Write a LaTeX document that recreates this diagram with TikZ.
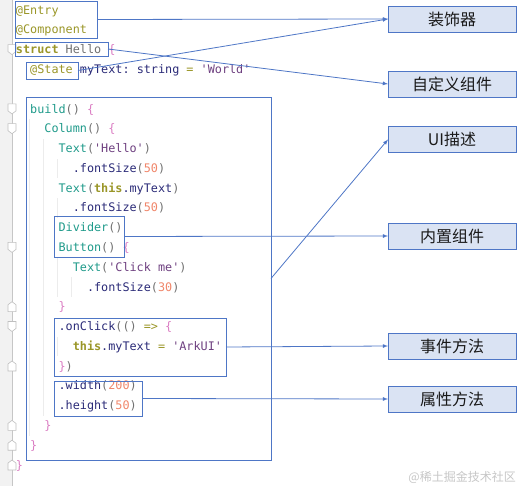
\documentclass[tikz,border=0pt]{standalone}
\usepackage{fontspec}
\usepackage{xcolor}
\setmonofont{DejaVu Sans Mono}
\newfontfamily\cjk{Noto Sans CJK SC}
\usetikzlibrary{arrows}
\definecolor{annot}{HTML}{9A9628}
\definecolor{ident}{HTML}{2B2B78}
\definecolor{strlit}{HTML}{6E4080}
\definecolor{func}{HTML}{1F9A8A}
\definecolor{paren}{HTML}{707070}
\definecolor{brace}{HTML}{DA7CC2}
\definecolor{numlit}{HTML}{F0866A}
\definecolor{frame}{HTML}{4E76C6}
\definecolor{labelfill}{HTML}{DAE3F3}
\newcommand{\cAn}[1]{\textcolor{annot}{#1}}
\newcommand{\cKw}[1]{\textcolor{annot}{\bfseries #1}}
\newcommand{\cId}[1]{\textcolor{ident}{#1}}
\newcommand{\cSt}[1]{\textcolor{strlit}{#1}}
\newcommand{\cFn}[1]{\textcolor{func}{#1}}
\newcommand{\cPa}[1]{\textcolor{paren}{#1}}
\newcommand{\cBr}[1]{\textcolor{brace}{#1}}
\newcommand{\cNu}[1]{\textcolor{numlit}{#1}}
\tikzset{%
    code/.style={anchor=base west,inner sep=0pt,outer sep=0pt,font=\ttfamily\fontsize{11.8}{12}\selectfont},
    hilite/.style={inner sep=0pt,outer sep=0pt,shape=rectangle,draw=frame,line width=0.85pt,anchor=north west},
    tag/.style={inner sep=0pt,outer sep=0pt,shape=rectangle,draw=frame,fill=labelfill,line width=0.85pt,minimum width=128,minimum height=26,font=\cjk\fontsize{16}{16}\selectfont,text=black!90},
    link/.style={->,>=latex,draw=frame,line width=0.8pt},
    guide/.style={gray!15,line width=1pt},
    fold/.style={draw=gray!50,fill=white,line width=0.6pt},
}

\begin{document}
\begin{tikzpicture}[x=1pt,y=-1pt]
        \useasboundingbox (0,0) rectangle (517,486);
        \fill[gray!10] (0,0) rectangle (12,486);
        \draw[gray!45,line width=0.8pt] (12,0) -- (12,486);

        \draw[guide] (29,119) -- (29,436);
        \draw[guide] (43,139) -- (43,416);
        \draw[guide] (57,159) -- (57,178);
        \draw[guide] (57,198) -- (57,218);
        \draw[guide] (57,258) -- (57,297);
        \draw[guide] (71,277) -- (71,297);
        \draw[guide] (57,337) -- (57,356);

        \draw[fold] (8,44.6) -- (16,44.6) -- (16,51.6) -- (12,54.6) -- (8,51.6) -- cycle;
        \draw[fold] (8,103.9) -- (16,103.9) -- (16,110.9) -- (12,113.9) -- (8,110.9) -- cycle;
        \draw[fold] (8,123.7) -- (16,123.7) -- (16,130.7) -- (12,133.7) -- (8,130.7) -- cycle;
        \draw[fold] (8,242.4) -- (16,242.4) -- (16,249.4) -- (12,252.4) -- (8,249.4) -- cycle;
        \draw[fold] (8,321.5) -- (16,321.5) -- (16,328.5) -- (12,331.5) -- (8,328.5) -- cycle;
        \draw[fold] (8,311.7) -- (16,311.7) -- (16,304.7) -- (12,301.7) -- (8,304.7) -- cycle;
        \draw[fold] (8,371) -- (16,371) -- (16,364) -- (12,361) -- (8,364) -- cycle;
        \draw[fold] (8,430.4) -- (16,430.4) -- (16,423.4) -- (12,420.4) -- (8,423.4) -- cycle;
        \draw[fold] (8,450.2) -- (16,450.2) -- (16,443.2) -- (12,440.2) -- (8,443.2) -- cycle;
        \draw[fold] (8,470) -- (16,470) -- (16,463) -- (12,460) -- (8,463) -- cycle;

        \node[code] (l0) at (16,14.2) {\cAn{@Entry}};
        \node[code] (l1) at (16,34) {\cAn{@Component}};
        \node[code] (l2) at (16,53.8) {\cKw{struct} \cPa{Hello} \cBr{\{}};
        \node[code] (l3) at (30.2,73.5) {\cAn{@State} \cId{myText: string} \cAn{=} \cSt{'World'}};
        \node[code] (l5) at (30.2,113.1) {\cFn{build}\cPa{()} \cBr{\{}};
        \node[code] (l6) at (44.4,132.9) {\cFn{Column}\cPa{()} \cBr{\{}};
        \node[code] (l7) at (58.6,152.7) {\cFn{Text}\cPa{(}\cSt{'Hello'}\cPa{)}};
        \node[code] (l8) at (72.8,172.4) {\cId{.fontSize}\cPa{(}\cNu{50}\cPa{)}};
        \node[code] (l9) at (58.6,192.2) {\cFn{Text}\cPa{(}\cKw{this}\cId{.myText}\cPa{)}};
        \node[code] (l10) at (72.8,212) {\cId{.fontSize}\cPa{(}\cNu{50}\cPa{)}};
        \node[code] (l11) at (58.6,231.8) {\cFn{Divider}\cPa{()}};
        \node[code] (l12) at (58.6,251.6) {\cFn{Button}\cPa{()} \cBr{\{}};
        \node[code] (l13) at (72.8,271.3) {\cFn{Text}\cPa{(}\cSt{'Click me'}\cPa{)}};
        \node[code] (l14) at (87,291.1) {\cId{.fontSize}\cPa{(}\cNu{30}\cPa{)}};
        \node[code] (l15) at (58.6,310.9) {\cBr{\}}};
        \node[code] (l16) at (58.6,330.7) {\cId{.onClick}\cPa{(()} \cAn{=>} \cBr{\{}};
        \node[code] (l17) at (72.8,350.5) {\cKw{this}\cId{.myText} \cAn{=} \cSt{'ArkUI'}};
        \node[code] (l18) at (58.6,370.2) {\cBr{\}}\cPa{)}};
        \node[code] (l19) at (58.6,390) {\cId{.width}\cPa{(}\cNu{200}\cPa{)}};
        \node[code] (l20) at (58.6,409.8) {\cId{.height}\cPa{(}\cNu{50}\cPa{)}};
        \node[code] (l21) at (44.4,429.6) {\cBr{\}}};
        \node[code] (l22) at (30.2,449.4) {\cBr{\}}};
        \node[code] (l23) at (16,469.2) {\cBr{\}}};

        \node[hilite,minimum width=82,minimum height=37] (decoBox) at (15,1) {};
        \node[hilite,minimum width=93,minimum height=14] (structBox) at (15,42) {};
        \node[hilite,minimum width=52,minimum height=17] (stateBox) at (26,62) {};
        \node[hilite,minimum width=245,minimum height=363] (buildBox) at (26,97) {};
        \node[hilite,minimum width=70,minimum height=41] (innerBox) at (54,216) {};
        \node[hilite,minimum width=172,minimum height=58] (eventBox) at (54,318) {};
        \node[hilite,minimum width=88,minimum height=35] (attrBox) at (54,381) {};

        \node[tag] (deco) at (452,19) {装饰器};
        \node[tag] (custom) at (452,84) {自定义组件};
        \node[tag] (uidesc) at (452,139.5) {UI描述};
        \node[tag] (inner) at (452,236) {内置组件};
        \node[tag] (event) at (452,346) {事件方法};
        \node[tag] (attr) at (452,399) {属性方法};

        \draw[link] (decoBox.east) -- (deco.west);
        \draw[link] (stateBox.east) -- (deco.west);
        \draw[link] (structBox.east) -- (custom.west);
        \draw[link] (buildBox.east) -- (uidesc.west);
        \draw[link] (innerBox.east) -- (inner.west);
        \draw[link] (eventBox.east) -- (event.west);
        \draw[link] (attrBox.east) -- (attr.west);

        \node[anchor=east,inner sep=0pt,text=gray!45,font=\cjk\fontsize{12}{12}\selectfont] (wmark) at (516,477) {@稀土掘金技术社区};
    \end{tikzpicture}
\end{document}
